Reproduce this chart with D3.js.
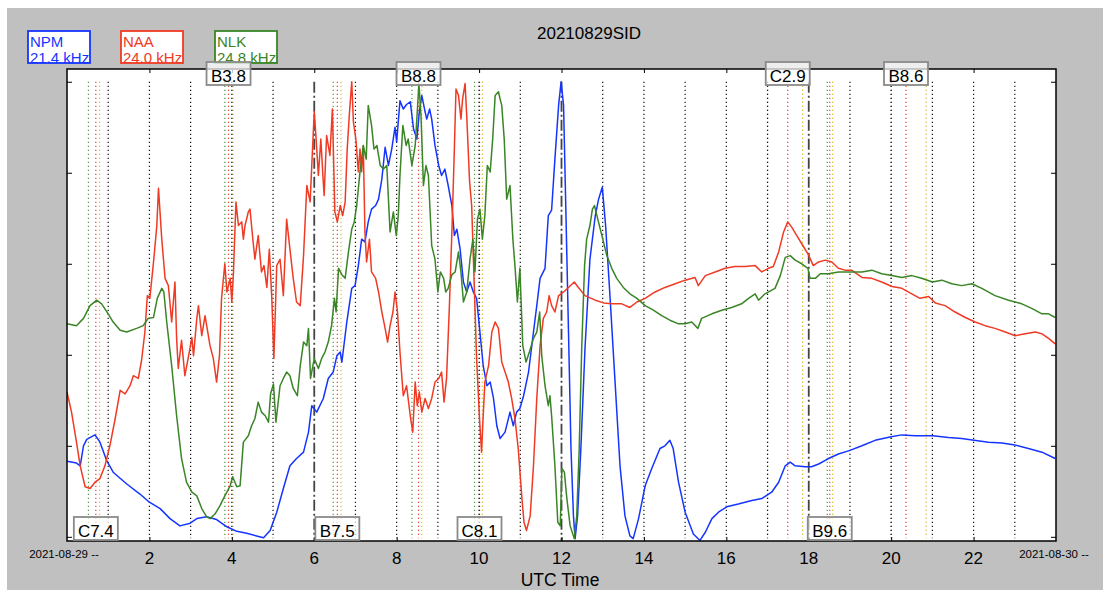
<!DOCTYPE html>
<html><head><meta charset="utf-8">
<script src="https://cdn.jsdelivr.net/npm/d3@7"></script>
<style>body{margin:0;background:#fff}svg{display:block;font-family:"Liberation Sans",Arial,Helvetica,sans-serif}</style>
</head><body><svg id="c" width="1103" height="590"></svg>
<script>
const title = "20210829SID";
const stations = ["NPM", "NAA", "NLK"];
const freqs = ["21.4 kHz", "24.0 kHz", "24.8 kHz"];
const xTickHours = [2, 4, 6, 8, 10, 12, 14, 16, 18, 20, 22];
const yTickValues = [0, 10, 20, 30, 40, 50];
const startDate = "2021-08-29 --";
const endDate = "2021-08-30 --";
const xTitle = "UTC Time";

// [UTC hour, amplitude]
const npm = [[0,8.3],[0.23,8.1],[0.32,7.8],[0.40,10.0],[0.48,10.7],[0.60,11.0],[0.68,11.2],[0.80,10.4],[0.96,8.4],[1.12,7.1],[1.45,5.8],[1.77,4.7],[2.00,3.8],[2.26,3.1],[2.50,2.0],[2.74,1.2],[2.99,1.5],[3.15,2.0],[3.39,2.2],[3.63,1.9],[3.88,1.1],[4.12,0.6],[4.36,0.4],[4.60,0.1],[4.77,-0.1],[4.93,0.7],[5.09,2.7],[5.25,5.3],[5.41,7.8],[5.57,8.6],[5.74,9.3],[5.86,11.5],[5.94,14.4],[6.06,13.7],
[6.22,15.2],[6.34,17.4],[6.46,18.1],[6.55,19.9],[6.63,20.3],[6.67,19.2],[6.79,23.6],[6.91,27.3],[6.99,27.6],[7.07,29.8],[7.15,32.7],[7.23,32.4],[7.31,34.6],[7.39,36.0],[7.49,36.4],[7.56,37.1],[7.64,39.3],[7.72,42.8],[7.80,40.8],[7.88,42.6],[7.96,45.0],[8.00,43.4],[8.08,47.9],[8.16,47.0],[8.24,47.5],[8.33,47.8],[8.41,44.8],[8.49,43.7],[8.55,46.7],[8.61,48.5],[8.69,46.7],[8.73,45.9],[8.80,47.0],[8.85,45.9],[8.93,43.0],[9.02,40.8],[9.09,39.7],[9.17,40.4],[9.25,38.6],[9.34,36.4],[9.40,33.1],[9.46,33.8],[9.54,31.6],[9.62,28.0],[9.70,26.9],[9.78,28.0],[9.86,26.9],[9.94,26.2],[10.02,22.5],[10.10,18.8],[10.19,16.6],[10.27,17.0],[10.35,15.2],[10.43,12.2],[10.51,10.8],[10.63,11.5],[10.75,13.7],[10.83,12.2],[10.91,13.7],[10.99,14.1],[11.08,15.5],[11.20,18.1],[11.32,22.5],[11.40,25.4],[11.48,28.4],[11.60,29.5],
[11.68,35.3],[11.76,35.9],[11.84,41.5],[11.93,47.4],[11.99,50.0],[12.05,47.4],[12.10,37.1],[12.17,22.5],[12.23,9.7],[12.29,2.3],[12.33,-0.2],[12.39,2.3],[12.47,9.7],[12.57,20.7],[12.69,30.5],[12.82,35.3],[12.90,37.1],[12.99,38.4],[13.07,34.2],[13.18,26.2],[13.30,17.0],[13.42,7.8],[13.54,2.3],[13.66,0.1],[13.74,-0.2],[13.87,2.0],[14.03,5.6],[14.19,7.5],[14.39,9.7],[14.51,10.0],[14.63,10.6],[14.71,9.7],[14.84,6.0],[15.00,2.7],[15.20,0.3],[15.36,-0.4],[15.49,0.5],[15.65,2.0],[15.81,2.7],[16.01,3.3],[16.29,3.6],[16.62,4.0],[16.86,4.2],[17.10,4.9],[17.27,6.0],[17.43,7.8],[17.55,8.2],[17.67,7.8],[17.91,7.7],
[18.07,7.7],[18.24,8.0],[18.48,8.6],[18.72,9.1],[19.00,9.5],[19.29,10.0],[19.61,10.6],[20.00,11.0],[20.26,11.2],[20.58,11.1],[21.01,11.1],[21.39,10.9],[21.71,10.8],[22.01,10.6],[22.36,10.4],[22.69,10.3],[23.00,10.1],[23.33,9.7],[23.66,9.3],[23.98,8.6]];

const naa = [[0,15.9],[0.11,13.7],[0.23,10.4],[0.32,7.8],[0.44,5.5],[0.56,5.3],[0.68,6.0],[0.80,6.4],[0.92,7.8],[1.04,10.0],[1.17,13.0],[1.29,16.1],[1.41,15.7],[1.53,16.6],[1.61,17.7],[1.73,17.4],[1.81,19.4],[1.89,22.5],[1.95,26.5],[2.01,26.2],[2.10,30.2],[2.18,34.2],[2.22,38.3],[2.30,32.7],[2.38,28.4],[2.46,27.6],[2.54,23.6],[2.62,28.0],[2.66,21.8],[2.70,18.5],[2.78,21.6],[2.86,17.7],[2.94,19.6],[3.03,21.9],[3.07,19.9],[3.15,24.0],[3.19,25.4],[3.27,22.1],[3.35,24.3],[3.39,23.2],[3.47,21.0],[3.55,19.6],[3.63,17.0],[3.70,19.9],[3.75,26.2],[3.83,30.0],[3.88,26.9],[3.96,28.4],[4.00,25.8],[4.04,29.1],[4.10,36.8],[4.16,34.2],[4.24,34.6],[4.28,32.7],[4.32,34.2],[4.40,35.7],[4.44,36.0],[4.51,32.7],[4.56,30.5],[4.64,33.1],[4.72,29.1],[4.78,29.8],[4.85,27.4],[4.91,31.6],[4.97,26.2],[5.02,19.6],[5.09,29.8],[5.17,30.5],[5.25,26.5],[5.33,34.9],[5.41,31.6],[5.49,28.4],[5.57,25.8],[5.66,25.4],[5.74,30.9],[5.82,38.6],[5.90,36.8],[5.94,40.8],[6.00,46.7],
[6.04,44.1],[6.10,39.7],[6.16,43.7],[6.21,39.7],[6.24,37.5],[6.30,44.1],[6.38,41.9],[6.44,47.0],[6.50,35.7],[6.56,34.6],[6.63,36.4],[6.69,35.3],[6.75,36.8],[6.80,42.6],[6.85,46.3],[6.91,50.0],[6.95,45.6],[7.01,43.7],[7.07,40.1],[7.11,42.6],[7.15,40.1],[7.19,43.0],[7.23,33.5],[7.27,30.2],[7.34,32.7],[7.39,29.1],[7.49,28.4],[7.56,26.9],[7.64,24.7],[7.72,22.9],[7.78,21.4],[7.84,23.2],[7.91,24.7],[7.96,26.9],[8.02,24.7],[8.08,20.3],[8.16,15.5],[8.24,16.6],[8.33,13.3],[8.39,11.5],[8.45,17.0],[8.50,14.4],[8.55,15.9],[8.61,13.7],[8.69,15.2],[8.77,14.1],[8.85,15.2],[8.93,17.0],[9.02,17.4],[9.09,18.1],[9.15,14.8],[9.21,17.4],[9.28,25.4],[9.34,33.5],[9.40,42.6],[9.44,49.2],[9.50,48.5],[9.56,45.9],[9.60,48.1],[9.66,49.8],[9.70,46.3],[9.77,39.0],[9.82,36.4],[9.88,28.0],[9.94,19.6],[10.01,13.0],[10.06,9.3],[10.10,13.3],[10.14,17.0],[10.23,18.8],[10.31,22.5],[10.39,23.6],[10.47,22.9],[10.55,19.2],[10.63,18.1],[10.71,17.0],[10.79,15.2],[10.87,13.0],[10.95,9.7],[11.04,4.2],[11.09,1.6],[11.15,0.7],[11.24,2.3],[11.32,7.8],[11.40,15.2],[11.48,21.0],[11.56,24.0],[11.64,24.7],[11.70,26.5],[11.76,25.4],[11.84,24.7],[11.93,26.5],
[12.05,26.9],[12.17,27.4],[12.31,28.0],[12.41,27.4],[12.57,26.5],[12.82,26.0],[13.02,25.7],[13.22,25.6],[13.46,25.6],[13.66,25.2],[13.83,25.8],[14.03,26.2],[14.27,26.9],[14.51,27.4],[14.76,27.8],[15.00,28.2],[15.24,28.5],[15.32,27.6],[15.49,28.7],[15.73,29.1],[15.97,29.5],[16.21,29.7],[16.46,29.7],[16.70,29.8],[16.86,29.1],[17.02,29.5],[17.14,29.7],[17.27,31.3],[17.39,33.5],[17.49,34.6],[17.59,34.0],[17.71,33.1],[17.83,32.2],[17.99,31.0],
[18.11,29.8],[18.24,30.2],[18.40,30.4],[18.56,30.2],[18.72,29.5],[18.88,29.3],[19.04,29.3],[19.29,28.5],[19.53,28.4],[19.77,28.0],[20.02,27.5],[20.26,27.3],[20.50,26.7],[20.70,26.2],[20.91,26.4],[21.07,25.7],[21.31,25.4],[21.55,24.7],[21.80,24.1],[22.04,23.6],[22.28,23.2],[22.52,22.9],[22.77,22.5],[23.01,22.1],[23.25,22.3],[23.50,22.5],[23.66,22.3],[23.82,21.8],[23.98,21.2]];

const nlk = [[0,23.4],[0.23,23.2],[0.40,24.0],[0.56,25.4],[0.72,26.0],[0.84,25.6],[1.00,24.5],[1.12,23.6],[1.29,22.7],[1.45,22.5],[1.69,22.9],[1.85,23.2],[1.97,24.0],[2.10,24.1],[2.19,26.2],[2.30,27.3],[2.35,26.9],[2.42,23.6],[2.54,18.8],[2.66,13.3],[2.78,8.6],[2.90,6.0],[3.03,4.9],[3.15,4.5],[3.27,3.1],[3.39,2.2],[3.47,2.0],[3.59,2.5],[3.71,3.4],[3.83,4.5],[3.96,5.6],[4.02,6.6],[4.12,5.5],[4.20,5.6],[4.28,10.4],[4.40,11.1],[4.48,12.2],[4.56,13.0],[4.64,14.8],[4.72,13.7],[4.81,13.3],[4.89,12.6],[4.94,15.7],[5.01,16.8],[5.07,12.6],[5.17,16.6],[5.25,17.4],[5.33,18.1],[5.41,17.7],[5.49,16.3],[5.59,15.5],[5.66,18.8],[5.74,21.4],[5.82,21.0],[5.86,22.9],[5.91,17.4],[6.00,19.6],
[6.10,18.5],[6.18,19.6],[6.26,20.3],[6.34,21.4],[6.42,23.2],[6.49,26.2],[6.53,24.7],[6.59,29.5],[6.67,28.8],[6.75,28.4],[6.83,31.3],[6.91,33.8],[6.97,34.6],[7.03,36.4],[7.11,40.1],[7.19,43.0],[7.26,41.5],[7.31,47.4],[7.39,45.2],[7.45,42.6],[7.52,43.0],[7.60,40.8],[7.68,40.4],[7.76,40.8],[7.84,33.5],[7.92,35.7],[7.99,33.1],[8.04,35.3],[8.08,39.7],[8.15,45.2],[8.23,43.0],[8.28,43.7],[8.37,40.8],[8.45,43.0],[8.50,46.7],[8.54,49.8],[8.59,46.3],[8.65,38.6],[8.71,40.8],[8.77,39.7],[8.85,32.0],[8.93,30.5],[9.00,26.9],[9.06,29.1],[9.14,28.4],[9.19,26.9],[9.25,27.3],[9.34,28.8],[9.42,29.1],[9.50,31.3],[9.56,29.1],[9.62,25.8],[9.70,26.9],[9.78,30.5],[9.85,32.7],[9.90,29.1],[9.96,34.9],[10.02,36.0],[10.08,32.7],[10.14,35.3],[10.20,40.8],[10.27,40.1],[10.33,43.7],[10.39,48.5],[10.47,48.9],[10.51,48.1],[10.55,47.4],[10.61,43.7],[10.67,37.1],[10.75,38.6],[10.82,32.7],[10.87,29.8],[10.93,25.8],[10.99,29.5],[11.06,21.0],[11.14,19.2],[11.22,20.3],[11.32,21.8],[11.40,22.5],[11.47,24.7],[11.52,19.9],[11.60,16.6],
[11.64,15.5],[11.68,14.4],[11.72,15.5],[11.76,13.3],[11.84,7.8],[11.91,1.6],[11.97,1.2],[12.01,7.5],[12.07,7.1],[12.13,4.2],[12.21,1.2],[12.31,-0.2],[12.37,2.3],[12.43,9.7],[12.49,20.7],[12.56,29.8],[12.61,32.7],[12.69,34.2],[12.75,36.0],[12.80,36.4],[12.88,34.9],[12.98,33.1],[13.10,30.9],[13.22,29.5],[13.34,28.4],[13.50,27.4],[13.66,26.7],[13.83,26.2],[14.03,25.4],[14.23,24.9],[14.43,24.3],[14.63,23.8],[14.84,23.4],[15.00,23.4],[15.16,23.6],[15.31,22.9],[15.40,24.0],[15.65,24.5],[15.89,24.9],[16.13,25.2],[16.37,25.6],[16.54,26.2],[16.70,26.7],[16.78,26.0],[16.94,26.7],[17.18,27.3],[17.31,28.7],[17.43,30.7],[17.55,30.9],[17.67,30.4],[17.83,30.0],
[17.98,29.5],[18.03,28.4],[18.16,28.4],[18.28,28.9],[18.48,28.9],[18.72,29.1],[18.96,29.1],[19.29,29.1],[19.53,29.3],[19.77,28.9],[20.02,28.7],[20.26,28.5],[20.50,28.7],[20.74,28.4],[21.00,28.0],[21.23,28.2],[21.47,27.8],[21.71,27.6],[21.96,27.8],[22.20,27.3],[22.52,26.5],[22.85,26.0],[23.17,25.6],[23.41,25.1],[23.66,24.5],[23.82,24.5],[23.98,24.1]];

const flareLabels = ["C7.4", "B3.8", "B7.5", "B8.8", "C8.1", "C2.9", "B9.6", "B8.6"];
const flareStart = [0.52, 3.83, 6.46, 8.37, 9.89, 17.00, 18.45, 20.00];
const flarePeak  = [0.70, 3.92, 6.56, 8.53, 10.01, 17.49, 18.51, 20.36];
const flareEnd   = [0.79, 4.03, 6.65, 8.61, 10.08, 17.85, 18.58, 20.85];
const flareSide  = ["bottom", "top", "bottom", "top", "bottom", "top", "bottom", "top"];
const terminatorHours = [6, 12, 18];

const seriesColors = ["#1535ff", "#f03a24", "#3a8526"];

const svg = d3.select("#c");
const W = 1103, H = 590;
const L = 67, R = 1056, T = 69, B = 541;

svg.append("rect").attr("width", W).attr("height", H).attr("fill", "#ffffff");
svg.append("rect").attr("x", 7).attr("y", 8).attr("width", W - 7).attr("height", H - 8).attr("fill", "#c0c0c0");
svg.append("rect").attr("x", L).attr("y", T).attr("width", R - L).attr("height", B - T).attr("fill", "#ffffff");

const x = d3.scaleLinear().domain([0, 24]).range([L, R]);
const y = d3.scaleLinear().domain([-0.46, 51.4]).range([B, T]);

svg.append("defs").append("clipPath").attr("id", "pc")
  .append("rect").attr("x", L).attr("y", T).attr("width", R - L).attr("height", B - T);

const gridTop = y(50), gridBot = y(-0.15);

// flare lines
const flareG = svg.append("g");
const addV = (h, color, dash, w) => flareG.append("line")
  .attr("x1", x(h)).attr("x2", x(h)).attr("y1", gridTop).attr("y2", gridBot)
  .attr("stroke", color).attr("stroke-width", w).attr("stroke-dasharray", dash);
flareLabels.forEach((f, i) => {
  addV(flareStart[i], "#4f9a3a", "1.3,2.7", 1.2);
  addV(flarePeak[i], "#f04030", "1.3,2.7", 1.2);
  addV(flareEnd[i], "#d2c22c", "1.3,2.7", 1.2);
});

// hour dotted grid
d3.range(1, 24).filter(h => !terminatorHours.includes(h)).forEach(h => {
  svg.append("line").attr("x1", x(h)).attr("x2", x(h)).attr("y1", gridTop).attr("y2", gridBot)
    .attr("stroke", "#111").attr("stroke-width", 1.2).attr("stroke-dasharray", "1.3,2.7");
});
terminatorHours.forEach(h => {
  svg.append("line").attr("x1", x(h)).attr("x2", x(h)).attr("y1", gridTop).attr("y2", B)
    .attr("stroke", "#444").attr("stroke-width", 1.8).attr("stroke-dasharray", "11,3,2,3");
});

// series
const line = d3.line().x(d => x(d[0])).y(d => y(d[1]));
const lg = svg.append("g").attr("clip-path", "url(#pc)");
[npm, naa, nlk].forEach((s, i) => {
  lg.append("path").datum(s).attr("d", line).attr("fill", "none")
    .attr("stroke", seriesColors[i]).attr("stroke-width", 1.5).attr("stroke-linejoin", "round");
});

// frame
svg.append("rect").attr("x", L).attr("y", T).attr("width", R - L).attr("height", B - T)
  .attr("fill", "none").attr("stroke", "#000").attr("stroke-width", 1.5);

// axes ticks (inward)
svg.append("g").attr("transform", `translate(0,${B})`)
  .call(d3.axisTop(x).tickValues(xTickHours).tickSize(4).tickFormat(""))
  .call(g => { g.select(".domain").remove(); g.selectAll("line").attr("stroke", "#000"); });
svg.append("g").attr("transform", `translate(0,${T})`)
  .call(d3.axisBottom(x).tickValues(xTickHours).tickSize(4).tickFormat(""))
  .call(g => { g.select(".domain").remove(); g.selectAll("line").attr("stroke", "#000"); });
svg.append("g").attr("transform", `translate(${L},0)`)
  .call(d3.axisRight(y).tickValues(yTickValues).tickSize(5).tickFormat(""))
  .call(g => { g.select(".domain").remove(); g.selectAll("line").attr("stroke", "#000"); });
svg.append("g").attr("transform", `translate(${R},0)`)
  .call(d3.axisLeft(y).tickValues(yTickValues).tickSize(5).tickFormat(""))
  .call(g => { g.select(".domain").remove(); g.selectAll("line").attr("stroke", "#000"); });

// x tick labels
svg.append("g").selectAll("text").data(xTickHours).join("text")
  .attr("x", d => x(d)).attr("y", 564).attr("text-anchor", "middle")
  .attr("font-size", 17).attr("fill", "#000").text(d => d);
svg.append("text").attr("x", 64).attr("y", 558).attr("text-anchor", "middle")
  .attr("font-size", 11.5).attr("fill", "#000").text(startDate);
svg.append("text").attr("x", 1054).attr("y", 558).attr("text-anchor", "middle")
  .attr("font-size", 11.5).attr("fill", "#000").text(endDate);
svg.append("text").attr("x", 560).attr("y", 586).attr("text-anchor", "middle")
  .attr("font-size", 17.5).attr("fill", "#000").text(xTitle);
svg.append("text").attr("x", 589).attr("y", 39).attr("text-anchor", "middle")
  .attr("font-size", 17).attr("fill", "#000").text(title);

// legend boxes
const legX = [28, 121, 215];
stations.forEach((s, i) => {
  const g = svg.append("g");
  g.append("rect").attr("x", legX[i]).attr("y", 31).attr("width", 62).attr("height", 32)
    .attr("fill", "#fff").attr("stroke", seriesColors[i]).attr("stroke-width", 1.8);
  g.append("text").attr("x", legX[i] + 2).attr("y", 47).attr("font-size", 15)
    .attr("fill", seriesColors[i]).text(s);
  g.append("text").attr("x", legX[i] + 2).attr("y", 62.5).attr("font-size", 15)
    .attr("fill", seriesColors[i]).text(freqs[i]);
});

// flare label boxes
flareLabels.forEach((f, i) => {
  const cx = x(flarePeak[i]);
  const top = flareSide[i] === "top";
  const by = top ? 62 : 517;
  const g = svg.append("g");
  g.append("rect").attr("x", cx - 22).attr("y", by).attr("width", 44).attr("height", 23)
    .attr("fill", "#fff").attr("fill-opacity", 0.72).attr("stroke", "#8a8a8a").attr("stroke-width", 1.8);
  g.append("text").attr("x", cx).attr("y", by + 20).attr("text-anchor", "middle")
    .attr("font-size", 17).attr("fill", "#000").text(f);
});
</script></body></html>
